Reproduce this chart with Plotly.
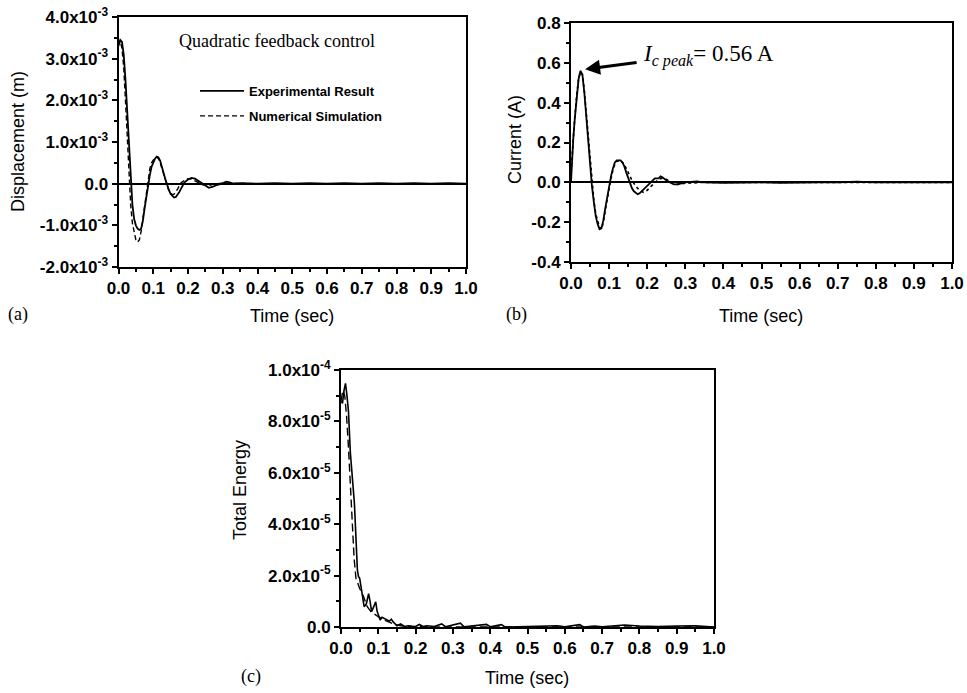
import plotly.graph_objects as go

# ---------------- data ----------------
# (a) displacement, units of 1e-3 m
t_disp_exp = [0, 0.005, 0.01, 0.015, 0.02, 0.025, 0.03, 0.035, 0.04, 0.045, 0.05, 0.055, 0.06, 0.065,
              0.07, 0.075, 0.08, 0.085, 0.09, 0.095, 0.1, 0.105, 0.11, 0.115, 0.12, 0.125, 0.13, 0.135,
              0.14, 0.145, 0.15, 0.155, 0.16, 0.165, 0.17, 0.175, 0.18, 0.185, 0.19, 0.2, 0.21, 0.22,
              0.23, 0.24, 0.25, 0.26, 0.27, 0.28, 0.29, 0.3, 0.31, 0.32, 0.33, 0.35, 0.4, 0.45, 0.5,
              0.55, 0.6, 0.65, 0.7, 0.75, 0.8, 0.85, 0.9, 0.95, 1.0]
d_disp_exp = [3.35, 3.45, 3.40, 3.10, 2.50, 1.70, 0.90, 0.10, -0.50, -0.85, -1.00, -1.08, -1.11, -1.08,
              -0.90, -0.60, -0.30, -0.05, 0.20, 0.40, 0.52, 0.60, 0.65, 0.63, 0.55, 0.42, 0.25, 0.10,
              -0.05, -0.15, -0.25, -0.30, -0.33, -0.32, -0.27, -0.20, -0.12, -0.04, 0.03, 0.10, 0.14, 0.12,
              0.07, 0.02, -0.05, -0.10, -0.08, -0.04, -0.02, 0.02, 0.05, 0.03, 0.00, 0.01, 0.00, 0.01, 0.00,
              0.01, 0.00, 0.01, 0.00, 0.01, 0.00, 0.01, 0.00, 0.01, 0.00]
t_disp_num = [0, 0.005, 0.01, 0.015, 0.02, 0.025, 0.03, 0.035, 0.04, 0.045, 0.05, 0.055, 0.06, 0.065,
              0.07, 0.075, 0.08, 0.085, 0.09, 0.095, 0.1, 0.105, 0.11, 0.115, 0.12, 0.125, 0.13, 0.135,
              0.14, 0.145, 0.15, 0.155, 0.16, 0.165, 0.17, 0.175, 0.18, 0.19, 0.2, 0.21, 0.22, 0.23,
              0.24, 0.25, 0.26, 0.27, 0.28, 0.3, 0.35, 0.4, 0.5, 0.6, 0.7, 0.8, 0.9, 1.0]
d_disp_num = [3.30, 3.42, 3.25, 2.80, 2.00, 1.10, 0.20, -0.50, -0.95, -1.20, -1.35, -1.40, -1.35, -1.15,
              -0.85, -0.50, -0.15, 0.15, 0.35, 0.50, 0.58, 0.63, 0.64, 0.60, 0.50, 0.36, 0.20, 0.05,
              -0.08, -0.17, -0.23, -0.26, -0.25, -0.20, -0.13, -0.05, 0.02, 0.08, 0.12, 0.11, 0.07, 0.02,
              -0.02, -0.04, -0.04, -0.02, 0.00, 0.01, 0.00, 0.00, 0.00, 0.00, 0.00, 0.00, 0.00, 0.00]

# (b) current, A
t_cur_exp = [0, 0.003, 0.006, 0.01, 0.015, 0.02, 0.025, 0.03, 0.035, 0.04, 0.045, 0.05, 0.055, 0.06,
             0.065, 0.07, 0.075, 0.08, 0.085, 0.09, 0.095, 0.1, 0.105, 0.11, 0.115, 0.12, 0.13, 0.135,
             0.14, 0.145, 0.15, 0.155, 0.16, 0.165, 0.17, 0.175, 0.18, 0.185, 0.19, 0.2, 0.21, 0.22,
             0.23, 0.235, 0.24, 0.25, 0.26, 0.27, 0.28, 0.29, 0.3, 0.33, 0.35, 0.4, 0.45, 0.5, 0.55,
             0.6, 0.65, 0.7, 0.75, 0.8, 0.85, 0.9, 0.95, 1.0]
c_cur_exp = [0.00, 0.12, 0.22, 0.32, 0.43, 0.52, 0.56, 0.54, 0.45, 0.33, 0.20, 0.08, -0.02, -0.10,
             -0.17, -0.21, -0.235, -0.23, -0.19, -0.13, -0.07, -0.02, 0.03, 0.07, 0.10, 0.11, 0.11, 0.10,
             0.08, 0.05, 0.02, -0.01, -0.03, -0.045, -0.055, -0.06, -0.055, -0.045, -0.035, -0.02, 0.00, 0.02,
             0.02, 0.03, 0.025, 0.01, 0.00, -0.01, -0.01, -0.005, 0.00, 0.005, 0.00, -0.003, 0.00, 0.00, -0.003,
             0.00, 0.00, 0.00, 0.003, 0.00, 0.00, 0.00, 0.00, 0.00]
t_cur_num = [0, 0.005, 0.01, 0.015, 0.02, 0.025, 0.03, 0.035, 0.04, 0.045, 0.05, 0.055, 0.06, 0.065,
             0.07, 0.075, 0.08, 0.085, 0.09, 0.095, 0.1, 0.105, 0.11, 0.115, 0.12, 0.13, 0.14, 0.15,
             0.16, 0.17, 0.18, 0.19, 0.2, 0.21, 0.22, 0.23, 0.24, 0.25, 0.26, 0.27, 0.28, 0.3, 0.35,
             0.5, 0.7, 0.9, 1.0]
c_cur_num = [0.05, 0.20, 0.33, 0.44, 0.52, 0.555, 0.54, 0.46, 0.35, 0.22, 0.10, 0.00, -0.09, -0.16,
             -0.20, -0.225, -0.235, -0.20, -0.14, -0.08, -0.03, 0.02, 0.06, 0.09, 0.105, 0.11, 0.09, 0.05,
             0.01, -0.02, -0.04, -0.05, -0.04, -0.02, 0.00, 0.015, 0.02, 0.015, 0.005, -0.005, -0.01, -0.005, 0.00,
             0.00, 0.00, 0.00, 0.00]

# (c) total energy, units of 1e-6
t_en_exp = [0, 0.004, 0.008, 0.012, 0.016, 0.02, 0.025, 0.03, 0.033, 0.036, 0.04, 0.044, 0.047, 0.05,
            0.055, 0.062, 0.068, 0.074, 0.078, 0.082, 0.088, 0.093, 0.097, 0.105, 0.11, 0.12, 0.13, 0.135,
            0.14, 0.15, 0.16, 0.17, 0.18, 0.19, 0.2, 0.21, 0.22, 0.23, 0.25, 0.27, 0.28, 0.32, 0.33, 0.39,
            0.4, 0.43, 0.44, 0.5, 0.55, 0.58, 0.6, 0.64, 0.65, 0.68, 0.7, 0.75, 0.76, 0.8, 0.85, 0.9,
            0.95, 1.0]
e_en_exp = [88, 87, 92, 94.8, 90, 84, 68, 58, 55, 48, 35, 22, 19.6, 19,
            14.4, 7.9, 9, 13, 10, 6, 8, 9.8, 6, 2.7, 3.8, 3.2, 2.3, 3.0,
            2.0, 0.5, 1.2, 0.2, 0.5, 0.3, 0.2, 1.0, 0.2, 0.5, 0.2, 1.2, 0.1, 1.5, 0.1, 1.0,
            0.1, 0.9, 0.0, 0.2, 0.3, 0.5, 0.1, 0.9, 0.0, 0.4, 0.1, 0.5, 0.8, 0.4, 0.2, 0.4,
            0.5, 0.0]
t_en_num = [0, 0.005, 0.01, 0.015, 0.02, 0.025, 0.03, 0.035, 0.04, 0.05, 0.06, 0.07, 0.08, 0.09,
            0.1, 0.12, 0.14, 0.16, 0.2, 0.3, 1.0]
e_en_num = [88, 92, 90, 82, 70, 55, 40, 27, 19, 15, 12, 8, 6, 5,
            4, 2.5, 1.2, 0.5, 0.1, 0.0, 0.0]

# tick labels
x_tickvals = [0.0, 0.1, 0.2, 0.3, 0.4, 0.5, 0.6, 0.7, 0.8, 0.9, 1.0]
x_ticktext = ["0.0", "0.1", "0.2", "0.3", "0.4", "0.5", "0.6", "0.7", "0.8", "0.9", "1.0"]
disp_tickvals = [-2e-3, -1e-3, 0.0, 1e-3, 2e-3, 3e-3, 4e-3]
disp_ticktext = ["-2.0x10<sup>-3</sup>", "-1.0x10<sup>-3</sup>", "0.0", "1.0x10<sup>-3</sup>",
                 "2.0x10<sup>-3</sup>", "3.0x10<sup>-3</sup>", "4.0x10<sup>-3</sup>"]
cur_tickvals = [-0.4, -0.2, 0.0, 0.2, 0.4, 0.6, 0.8]
cur_ticktext = ["-0.4", "-0.2", "0.0", "0.2", "0.4", "0.6", "0.8"]
en_tickvals = [0.0, 2e-5, 4e-5, 6e-5, 8e-5, 1e-4]
en_ticktext = ["0.0", "2.0x10<sup>-5</sup>", "4.0x10<sup>-5</sup>", "6.0x10<sup>-5</sup>",
               "8.0x10<sup>-5</sup>", "1.0x10<sup>-4</sup>"]

# ---------------- figure ----------------
W, H = 967, 693
SANS = "Liberation Sans"
SERIF = "Liberation Serif"

fig = go.Figure()
fig.add_trace(go.Scatter(x=t_disp_exp, y=[v * 1e-3 for v in d_disp_exp], mode="lines",
                         line=dict(color="black", width=1.8), name="Experimental Result",
                         xaxis="x", yaxis="y", legendgroup="g1"))
fig.add_trace(go.Scatter(x=t_disp_num, y=[v * 1e-3 for v in d_disp_num], mode="lines",
                         line=dict(color="black", width=1.4, dash="5px,3px"), name="Numerical Simulation",
                         xaxis="x", yaxis="y", legendgroup="g2"))
fig.add_trace(go.Scatter(x=t_cur_exp, y=c_cur_exp, mode="lines", line=dict(color="black", width=1.8),
                         xaxis="x2", yaxis="y2", showlegend=False))
fig.add_trace(go.Scatter(x=t_cur_num, y=c_cur_num, mode="lines",
                         line=dict(color="black", width=1.6, dash="dot"),
                         xaxis="x2", yaxis="y2", showlegend=False))
fig.add_trace(go.Scatter(x=t_en_exp, y=[v * 1e-6 for v in e_en_exp], mode="lines",
                         line=dict(color="black", width=1.6), xaxis="x3", yaxis="y3", showlegend=False))
fig.add_trace(go.Scatter(x=t_en_num, y=[v * 1e-6 for v in e_en_num], mode="lines",
                         line=dict(color="black", width=1.4, dash="8px,4px"),
                         xaxis="x3", yaxis="y3", showlegend=False))

tickfont = dict(family=SANS, size=17, color="black", weight="bold")


def xaxis(px0, px1, anchor):
    return dict(domain=[px0 / W, px1 / W], anchor=anchor, range=[0, 1],
                tickmode="array", tickvals=x_tickvals, ticktext=x_ticktext,
                showline=True, linecolor="black", linewidth=2, mirror=True,
                ticks="outside", ticklen=5, tickwidth=2, tickcolor="black",
                minor=dict(ticks="outside", ticklen=3, tickwidth=1.5, tickcolor="black",
                           tickvals=[v + 0.05 for v in x_tickvals[:-1]]),
                showgrid=False, zeroline=False, tickfont=tickfont, automargin=False)


def yaxis(py0, py1, anchor, rng, vals, text, zero):
    step = (vals[1] - vals[0]) / 2
    return dict(domain=[1 - py1 / H, 1 - py0 / H], anchor=anchor, range=rng,
                tickmode="array", tickvals=vals, ticktext=text,
                showline=True, linecolor="black", linewidth=2, mirror=True,
                ticks="outside", ticklen=5, tickwidth=2, tickcolor="black",
                minor=dict(ticks="outside", ticklen=3, tickwidth=1.5, tickcolor="black",
                           tickvals=[v + step for v in vals[:-1]]),
                showgrid=False, zeroline=zero, zerolinecolor="black", zerolinewidth=1.5,
                tickfont=tickfont, automargin=False)


fig.update_layout(
    width=W, height=H, margin=dict(l=0, r=0, t=0, b=0),
    paper_bgcolor="white", plot_bgcolor="white",
    xaxis=xaxis(118.5, 466, "y"),
    yaxis=yaxis(17, 267, "x", [-2e-3, 4e-3], disp_tickvals, disp_ticktext, True),
    xaxis2=xaxis(571, 952, "y2"),
    yaxis2=yaxis(23, 262, "x2", [-0.4, 0.8], cur_tickvals, cur_ticktext, True),
    xaxis3=xaxis(341, 714, "y3"),
    yaxis3=yaxis(370, 627, "x3", [0, 1e-4], en_tickvals, en_ticktext, False),
    legend=dict(x=195 / W, y=1 - 76 / H, xanchor="left", yanchor="top",
                font=dict(family=SANS, size=13, color="black", weight="bold"),
                bgcolor="rgba(0,0,0,0)", tracegroupgap=5, itemwidth=44),
    showlegend=True,
)


def label(text, px, py, size=18, family=SANS, angle=0, xanchor="center"):
    fig.add_annotation(text=text, x=px / W, y=1 - py / H, xref="paper", yref="paper",
                       showarrow=False, textangle=angle, xanchor=xanchor, yanchor="middle",
                       font=dict(family=family, size=size, color="black"))


label("Displacement (m)", 18, 142, angle=-90)
label("Current (A)", 515, 140, angle=-90)
label("Total Energy", 240, 490, angle=-90)
label("Time (sec)", 292, 316)
label("Time (sec)", 761, 316)
label("Time (sec)", 527, 678)
label("(a)", 18, 314, family=SERIF)
label("(b)", 516, 314, family=SERIF)
label("(c)", 251, 676, family=SERIF)
label("Quadratic feedback control", 277, 41, size=18, family=SERIF)
label("<i>I</i><sub><i>c peak</i></sub>= 0.56 A", 641, 56, size=23, family=SERIF, xanchor="left")

# arrow pointing to the current peak
fig.add_annotation(x=0.037, y=0.568, xref="x2", yref="y2", text="", showarrow=True,
                   ax=53, ay=-7, arrowhead=2, arrowsize=1, arrowwidth=3, arrowcolor="black")

fig.write_html("out.html", config={"displayModeBar": False},
               post_script="document.body.style.margin='0';document.body.style.overflow='hidden';")
